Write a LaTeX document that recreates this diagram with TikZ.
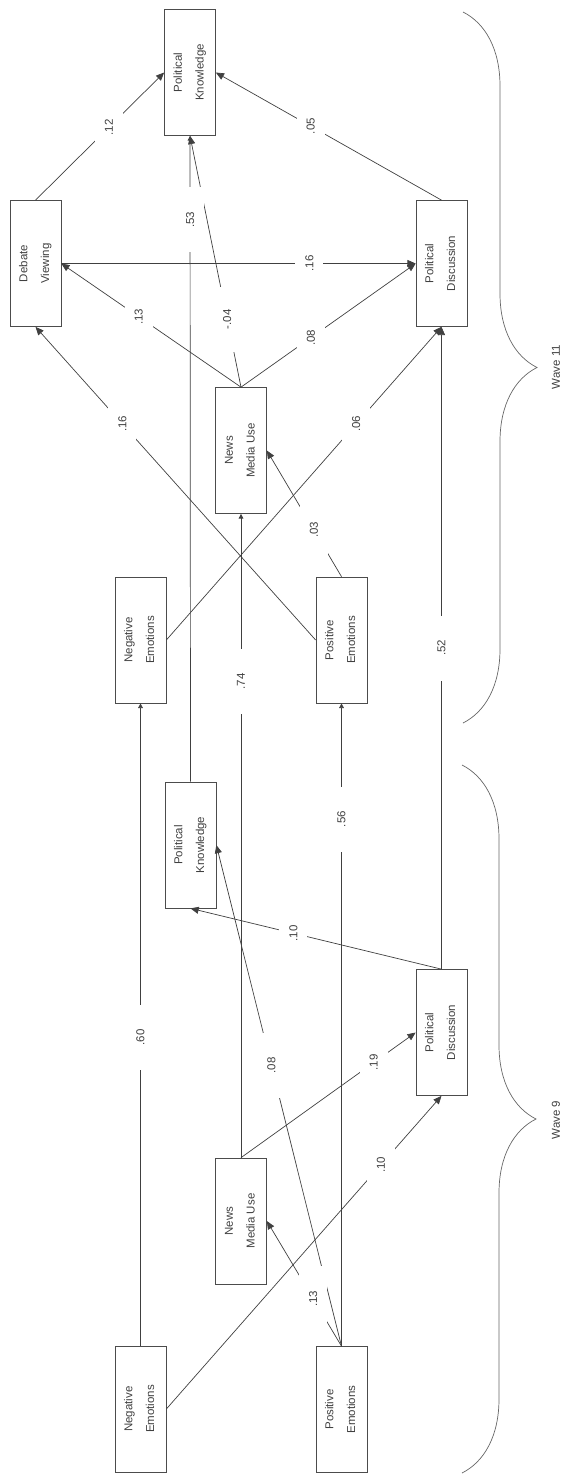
\documentclass[tikz,border=0pt]{standalone}
\usepackage{fontspec}
\setmainfont{Liberation Sans}
\usepackage{graphicx}
\usetikzlibrary{arrows.meta, decorations.pathreplacing}

\newcommand{\boxtext}[2]{\rotatebox{90}{\begin{tabular}{@{}c@{}}#1\\[7pt]#2\end{tabular}}}

\begin{document}
\begin{tikzpicture}[x=0.03cm, y=-0.03cm, >={Triangle[length=7pt, width=6pt]},
    every node/.style={font=\fontsize{9.8}{11.5}\selectfont, text=black!75},
    var/.style={rectangle, draw=black!70, line width=0.6pt, minimum width=1.53cm, minimum height=3.78cm, inner sep=0pt},
    link/.style={->, draw=black!75, line width=0.6pt},
    stab/.style={link, -{Triangle[length=4pt, width=4pt]}},
    coef/.style={fill=white, rotate=90, minimum width=1.95cm, minimum height=0.84cm, inner sep=0pt},
    wavebrace/.style={decorate, decoration={brace, amplitude=2.22cm}, draw=black!60, line width=0.6pt},
]
\useasboundingbox (0,0) rectangle (564,1476);

% Nodes (wave 11)
\node[var] (know_w11) at (190,72.5) {\boxtext{Political}{Knowledge}};
\node[var] (debate) at (35.5,263.5) {\boxtext{Debate}{Viewing}};
\node[var] (disc_w11) at (441.5,263.5) {\boxtext{Political}{Discussion}};
\node[var] (news_w11) at (241,450.5) {\boxtext{News}{Media Use}};
\node[var] (neg_w11) at (140.5,640) {\boxtext{Negative}{Emotions}};
\node[var] (pos_w11) at (341.5,640) {\boxtext{Positive}{Emotions}};

% Nodes (wave 9)
\node[var] (know_w9) at (190.5,845) {\boxtext{Political}{Knowledge}};
\node[var] (disc_w9) at (441.5,1032.5) {\boxtext{Political}{Discussion}};
\node[var] (news_w9) at (241,1221) {\boxtext{News}{Media Use}};
\node[var] (neg_w9) at (140.5,1409) {\boxtext{Negative}{Emotions}};
\node[var] (pos_w9) at (341.5,1409.5) {\boxtext{Positive}{Emotions}};

% Edges (within wave 11)
\draw[link] (debate.north) -- node[coef, pos=0.57] {.12} (know_w11.west);
\draw[link] (disc_w11.north) -- node[coef, pos=0.58] {.05} (know_w11.east);
\draw[link] (news_w11.north) -- node[coef, pos=0.27] {-.04} (know_w11.south);
\draw[link] (news_w11.north) -- node[coef, pos=0.57] {.13} (debate.east);
\draw[link] (pos_w11.west) -- node[coef, pos=0.69] {.16} (debate.south);
\draw[link] (debate.east) -- node[coef, pos=0.70] {.16} (disc_w11.west);
\draw[link] (news_w11.north) -- node[coef, pos=0.40] {.08} (disc_w11.west);
\draw[link] (neg_w11.east) -- node[coef, pos=0.69] {.06} (disc_w11.south);
\draw[link] (pos_w11.north) -- node[coef, pos=0.37] {.03} (news_w11.east);

% Edges (wave 9 to wave 11)
\draw[stab] (know_w9.north) -- node[coef, pos=0.87] {.53} (know_w11.south);
\draw[link] (disc_w9.north) -- node[coef, pos=0.50] {.52} (disc_w11.south);
\draw[stab] (news_w9.north) -- node[coef, pos=0.74] {.74} (news_w11.south);
\draw[stab] (neg_w9.north) -- node[coef, pos=0.48] {.60} (neg_w11.south);
\draw[stab] (pos_w9.north) -- node[coef, pos=0.82] {.56} (pos_w11.south);

% Edges (within wave 9)
\draw[link] (disc_w9.north) -- node[coef, pos=0.59] {.10} (know_w9.south);
\draw[link] (pos_w9.north) -- node[coef, pos=0.56] {.08} (know_w9.east);
\draw[link] (news_w9.north) -- node[coef, pos=0.76] {.19} (disc_w9.west);
\draw[link] (neg_w9.east) -- node[coef, pos=0.78] {.10} (disc_w9.south);
\draw[link] (pos_w9.north) -- node[coef, pos=0.38] {.13} (news_w9.east);

% Waves
\draw[wavebrace] (463,12) coordinate (w11_top) -- (463,723) coordinate (w11_bot);
\draw[wavebrace] (462,765) coordinate (w9_top) -- (462,1473) coordinate (w9_bot);
\node[rotate=90] (wave11) at (556,367) {Wave 11};
\node[rotate=90] (wave9) at (556,1120) {Wave 9};

\end{tikzpicture}
\end{document}
